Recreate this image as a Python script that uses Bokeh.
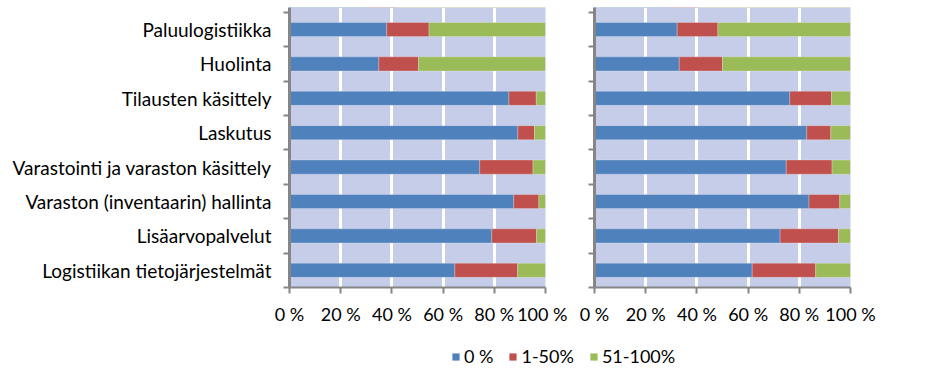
from bokeh.plotting import figure
from bokeh.models import ColumnDataSource, FixedTicker, Range1d, Legend, LegendItem
from bokeh.layouts import row, column
from bokeh.embed import file_html
from bokeh.resources import INLINE

categories = ["Logistiikan tietojärjestelmät", "Lisäarvopalvelut", "Varaston (inventaarin) hallinta",
              "Varastointi ja varaston käsittely", "Laskutus", "Tilausten käsittely", "Huolinta",
              "Paluulogistiikka", "Kansainväliset kuljetukset"]
series = ["0 %", "1-50%", "51-100%"]
colors = ["#4F81BD", "#C0504D", "#9BBB59"]

left_zero = [64.6, 79.0, 87.6, 74.3, 89.2, 85.7, 34.9, 38.0, 30.0]
left_low = [24.5, 17.5, 9.8, 20.8, 6.5, 10.7, 15.5, 16.5, 12.0]
left_high = [10.9, 3.5, 2.6, 4.9, 4.3, 3.6, 49.6, 45.5, 58.0]

right_zero = [61.6, 72.5, 83.8, 74.9, 82.9, 76.3, 33.1, 32.3, 29.1]
right_low = [24.8, 22.8, 12.0, 17.9, 9.4, 16.3, 16.9, 15.9, 11.6]
right_high = [13.6, 4.7, 4.2, 7.2, 7.7, 7.4, 50.0, 51.8, 59.3]

x_ticks = [0, 20, 40, 60, 80, 100]
x_tick_labels = ["0 %", "20 %", "40 %", "60 %", "80 %", "100 %"]

FONT = "Lato"
idx = list(range(len(categories)))
bounds = [i - 0.5 for i in idx] + [len(idx) - 0.5]
y_rng = Range1d(-0.5, 7.64)


def panel(zero, low, high, width, border_left, border_right, show_labels):
    src = ColumnDataSource(dict(y=idx, a=zero, b=low, c=high))
    p = figure(width=width, height=327, x_range=Range1d(0, 100), y_range=y_rng,
               toolbar_location=None, output_backend="svg",
               min_border_left=border_left, min_border_right=border_right,
               min_border_top=7, min_border_bottom=40)
    p.background_fill_color = "#C5CDE8"
    p.border_fill_color = "white"
    p.outline_line_color = None
    p.hbar_stack(["a", "b", "c"], y="y", height=0.41, color=colors, source=src,
                 line_color="white", line_width=0.5, line_alpha=0.5)
    p.ygrid.visible = False
    p.xgrid.ticker = FixedTicker(ticks=[20, 40, 60, 80])
    p.xgrid.grid_line_color = "white"
    p.xgrid.grid_line_width = 3
    p.xgrid.level = "underlay"

    xa = p.xaxis[0]
    xa.ticker = FixedTicker(ticks=x_ticks)
    xa.major_label_overrides = {t: l for t, l in zip(x_ticks, x_tick_labels)}
    xa.axis_line_color = "#868686"
    xa.axis_line_width = 2
    xa.major_tick_line_color = "#868686"
    xa.major_tick_line_width = 2
    xa.major_tick_out = 6
    xa.major_tick_in = 0
    xa.minor_tick_line_color = None
    xa.major_label_standoff = 9
    xa.major_label_text_font = FONT
    xa.major_label_text_font_size = "18px"
    xa.major_label_text_color = "black"

    ya = p.yaxis[0]
    if show_labels:
        ya.ticker = FixedTicker(ticks=idx, minor_ticks=bounds)
        ya.major_label_overrides = {i: c for i, c in zip(idx, categories)}
    else:
        ya.ticker = FixedTicker(ticks=[], minor_ticks=bounds)
    ya.axis_line_color = "#868686"
    ya.axis_line_width = 3
    ya.major_tick_line_color = None
    ya.major_tick_out = 0
    ya.major_tick_in = 0
    ya.minor_tick_line_color = "#868686"
    ya.minor_tick_line_width = 2
    ya.minor_tick_out = 6
    ya.minor_tick_in = 0
    ya.major_label_standoff = 12
    ya.major_label_text_font = FONT
    ya.major_label_text_font_size = "19px"
    ya.major_label_text_color = "black"
    return p


p1 = panel(left_zero, left_low, left_high, 567, 289, 22, True)
p2 = panel(right_zero, right_low, right_high, 310, 27, 27, False)

p3 = figure(width=877, height=50, x_range=Range1d(0, 1), y_range=Range1d(0, 1),
            toolbar_location=None, output_backend="svg",
            min_border_left=0, min_border_right=0, min_border_top=0, min_border_bottom=0)
p3.axis.visible = False
p3.grid.visible = False
p3.outline_line_color = None
items = []
for s, c in zip(series, colors):
    r = p3.vbar(x=[0.5], top=[0], bottom=[0], width=0, fill_color=c, line_color=None)
    items.append(LegendItem(label=s, renderers=[r]))
leg = Legend(items=items, orientation="horizontal", location=(451, 10),
             glyph_width=9, glyph_height=9, label_standoff=4, spacing=15,
             padding=0, margin=0, border_line_color=None, background_fill_alpha=0,
             label_text_font=FONT, label_text_font_size="18px", label_text_color="black")
p3.add_layout(leg)

layout = column(row(p1, p2), p3)
open("out.html", "w").write(file_html(layout, INLINE))
